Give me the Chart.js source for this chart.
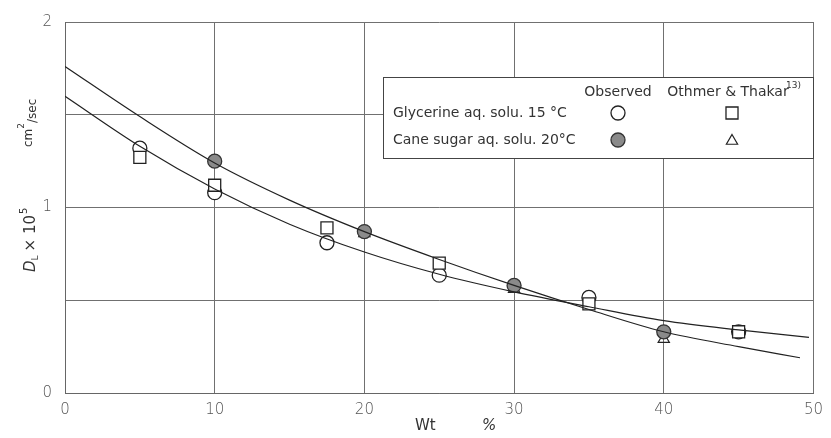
<!DOCTYPE html>
<html>
<head>
<meta charset="utf-8">
<script src="https://cdn.jsdelivr.net/npm/chart.js@4/dist/chart.umd.min.js"></script>
<style>
  html, body { margin: 0; padding: 0; background: #fff; }
  #wrap { width: 831px; height: 438px; }
</style>
</head>
<body>
<div id="wrap"><canvas id="chart"></canvas></div>
<script>
// Values (D_L x 10^5, cm2/sec vs wt %)
const glyX = [5, 10, 17.5, 25, 35, 45];
const glyObserved = [1.32, 1.08, 0.81, 0.635, 0.515, 0.33];
const glyOthmer = [1.27, 1.12, 0.89, 0.70, 0.48, 0.33];

const sugarX = [10, 20, 30, 40];
const sugarObserved = [1.25, 0.87, 0.58, 0.33];
const sugarOthmer = [1.25, 0.86, 0.56, 0.29];

// fitted curves
const glyCurveX = [0, 5, 10, 15, 20, 25, 30, 35, 40, 45, 49.7];
const glyCurveY = [1.60, 1.33, 1.10, 0.91, 0.76, 0.64, 0.545, 0.465, 0.39, 0.34, 0.30];
const sugarCurveX = [0, 5, 10, 15, 20, 25, 30, 35, 40, 45, 49.1];
const sugarCurveY = [1.76, 1.49, 1.24, 1.04, 0.87, 0.72, 0.58, 0.45, 0.33, 0.25, 0.19];

const xTicks = [0, 10, 20, 30, 40, 50];
const yLabels = [0, 1, 2];

const FONT = 'DejaVu Sans';
const INK = '#222';

function pts(xs, ys) {
    return xs.map((x, i) => ({ x: x, y: ys[i] }));
}

const curveStyle = {
    showLine: true,
    pointRadius: 0,
    borderColor: INK,
    borderWidth: 1.2,
    cubicInterpolationMode: 'monotone',
    fill: false
};

const datasets = [
    Object.assign({ label: 'glycerine curve', data: pts(glyCurveX, glyCurveY) }, curveStyle),
    Object.assign({ label: 'sugar curve', data: pts(sugarCurveX, sugarCurveY) }, curveStyle),
    {
        label: 'Glycerine Othmer & Thakar',
        data: pts(glyX, glyOthmer),
        pointStyle: 'rect',
        pointRadius: 8.5,
        backgroundColor: '#fff',
        borderColor: INK,
        borderWidth: 1.3
    },
    {
        label: 'Glycerine observed',
        data: pts(glyX, glyObserved),
        pointStyle: 'circle',
        pointRadius: 7,
        backgroundColor: '#fff',
        borderColor: INK,
        borderWidth: 1.3
    },
    {
        label: 'Cane sugar observed',
        data: pts(sugarX, sugarObserved),
        pointStyle: 'circle',
        pointRadius: 7,
        backgroundColor: '#8a8a8a',
        borderColor: '#333',
        borderWidth: 1.3
    },
    {
        label: 'Cane sugar Othmer & Thakar',
        data: pts(sugarX, sugarOthmer),
        pointStyle: 'triangle',
        pointRadius: 6.5,
        backgroundColor: 'rgba(255,255,255,0)',
        borderColor: INK,
        borderWidth: 1.2
    }
];

// legend box + axis titles drawn on top
const decorPlugin = {
    id: 'decor',
    afterDatasetsDraw(chart) {
        const ctx = chart.ctx;
        const ds = chart.data.datasets;
        ctx.save();

        // legend box
        const bx = 383, by = 77, bw = 430, bh = 81;
        ctx.fillStyle = '#fff';
        ctx.fillRect(bx, by, bw, bh);
        ctx.strokeStyle = '#444';
        ctx.lineWidth = 1;
        ctx.strokeRect(bx + 0.5, by + 0.5, bw, bh);

        ctx.fillStyle = '#333';
        ctx.textBaseline = 'middle';
        ctx.font = '14px "' + FONT + '"';
        ctx.textAlign = 'center';
        ctx.fillText('Observed', 618, 92);
        ctx.fillText('Othmer & Thakar', 728, 92);
        ctx.font = '9px "' + FONT + '"';
        ctx.textAlign = 'left';
        ctx.fillText('13)', 786, 86);

        ctx.font = '14px "' + FONT + '"';
        ctx.fillText('Glycerine aq. solu. 15 \u00B0C', 393, 113);
        ctx.fillText('Cane sugar aq. solu. 20\u00B0C', 393, 140);

        const mark = (d, x, y) => {
            ctx.fillStyle = d.backgroundColor;
            ctx.strokeStyle = d.borderColor;
            ctx.lineWidth = d.borderWidth;
            Chart.helpers.drawPoint(ctx, { pointStyle: d.pointStyle, radius: d.pointRadius, borderWidth: d.borderWidth }, x, y);
        };
        mark(ds[3], 618, 113);
        mark(ds[2], 732, 113);
        mark(ds[4], 618, 140);
        mark(ds[5], 732, 141);

        // y axis title (rotated)
        ctx.fillStyle = '#333';
        ctx.translate(31, 0);
        ctx.rotate(-Math.PI / 2);
        ctx.textAlign = 'left';
        ctx.textBaseline = 'middle';
        let x = -272;
        ctx.font = 'italic 15px "' + FONT + '"';
        ctx.fillText('D', x, 0);
        x += ctx.measureText('D').width;
        ctx.font = '9px "' + FONT + '"';
        ctx.fillText('L', x, 5);
        x += ctx.measureText('L').width + 4;
        ctx.font = '15px "' + FONT + '"';
        ctx.fillText('\u00D7 10', x, 0);
        x += ctx.measureText('\u00D7 10').width + 1;
        ctx.font = '10px "' + FONT + '"';
        ctx.fillText('5', x, -7);

        ctx.font = '12px "' + FONT + '"';
        x = -147;
        ctx.fillText('cm', x, -2);
        x += ctx.measureText('cm').width;
        ctx.font = '9px "' + FONT + '"';
        ctx.fillText('2', x, -9);
        x += ctx.measureText('2').width;
        ctx.font = '12px "' + FONT + '"';
        ctx.fillText('/sec', x, 2);
        ctx.restore();

        // x axis title
        ctx.save();
        ctx.fillStyle = '#333';
        ctx.font = '15px "' + FONT + '"';
        ctx.textBaseline = 'middle';
        ctx.textAlign = 'left';
        ctx.fillText('Wt', 415, 426);
        ctx.font = 'italic 15px "' + FONT + '"';
        ctx.fillText('%', 482, 426);
        ctx.restore();
    }
};

new Chart(document.getElementById('chart'), {
    type: 'scatter',
    data: { datasets: datasets },
    options: {
        responsive: true,
        maintainAspectRatio: false,
        animation: false,
        layout: { padding: { left: 0, right: 12, top: 12, bottom: 0 } },
        plugins: {
            legend: { display: false },
            tooltip: { enabled: false }
        },
        scales: {
            x: {
                type: 'linear',
                min: 0,
                max: 50,
                afterBuildTicks: (axis) => { axis.ticks = xTicks.map(v => ({ value: v })); },
                afterFit: (axis) => { axis.height = 45; },
                grid: { color: '#707070', lineWidth: 1, drawTicks: false },
                border: { color: '#666', width: 1 },
                ticks: {
                    color: '#555',
                    padding: 8,
                    font: { family: FONT, size: 15, weight: '300' }
                }
            },
            y: {
                type: 'linear',
                min: 0,
                max: 2,
                ticks: {
                    stepSize: 0.5,
                    color: '#555',
                    padding: 13,
                    font: { family: FONT, size: 15, weight: '300' },
                    callback: (v) => yLabels.includes(v) ? String(v) : ''
                },
                afterFit: (axis) => { axis.width = 65; },
                grid: { color: '#707070', lineWidth: 1, drawTicks: false },
                border: { color: '#666', width: 1 }
            }
        }
    },
    plugins: [decorPlugin]
});
</script>
</body>
</html>
